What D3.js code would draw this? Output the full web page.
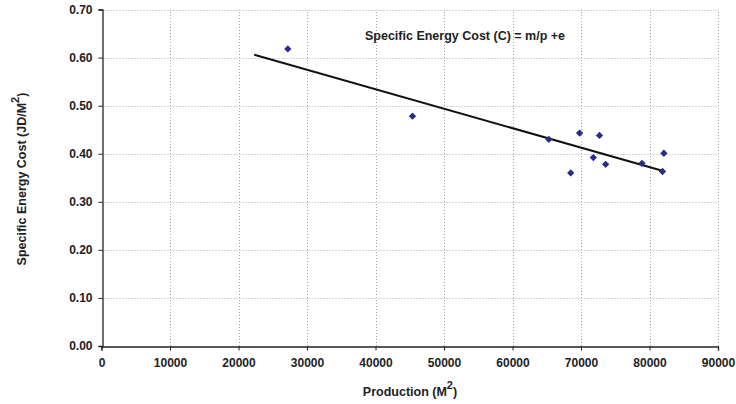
<!DOCTYPE html>
<html>
<head>
<meta charset="utf-8">
<script src="https://cdn.jsdelivr.net/npm/d3@7"></script>
<style>
  body { margin: 0; background: #fff; }
  svg { font-family: "Liberation Sans", Arial, sans-serif; font-weight: bold; }
</style>
</head>
<body>
<script>
// production (m2) and specific energy cost (JD/m2)
const production = [27200, 45400, 65300, 69800, 72700, 68500, 71800, 73600, 78900, 82100, 81900]
const cost = [0.618, 0.478, 0.430, 0.443, 0.438, 0.360, 0.392, 0.378, 0.380, 0.401, 0.363]
// fitted line endpoints
const trendX = [22300, 82000]
const trendY = [0.606, 0.364]
const xTicks = [0, 10000, 20000, 30000, 40000, 50000, 60000, 70000, 80000, 90000]
const yTicks = [0, 0.1, 0.2, 0.3, 0.4, 0.5, 0.6, 0.7]

const width = 736, height = 404
const margin = {left: 101.5, right: 18, top: 9.5, bottom: 58}

const x = d3.scaleLinear().domain([0, 90000]).range([margin.left, width - margin.right])
const y = d3.scaleLinear().domain([0, 0.7]).range([height - margin.bottom, margin.top])

const svg = d3.select('body').append('svg')
    .attr('width', width)
    .attr('height', height)

// grid
const grid = svg.append('g')
    .attr('stroke', '#aaa')
    .attr('stroke-dasharray', '1,2')
    .attr('stroke-width', 1)
grid.selectAll('.gx')
    .data(xTicks.slice(1))
    .join('line')
    .attr('x1', d => Math.round(x(d)) + 0.5).attr('x2', d => Math.round(x(d)) + 0.5)
    .attr('y1', y(0)).attr('y2', y(0.7))
grid.selectAll('.gy')
    .data(yTicks.slice(1))
    .join('line')
    .attr('y1', d => Math.round(y(d)) + 0.5).attr('y2', d => Math.round(y(d)) + 0.5)
    .attr('x1', x(0)).attr('x2', x(90000))

// axes
const xAxis = svg.append('g')
    .attr('transform', `translate(0,${Math.round(y(0)) + 0.5})`)
    .call(d3.axisBottom(x).tickValues(xTicks).tickFormat(d3.format('d')).tickSize(4).tickPadding(8))
const yAxis = svg.append('g')
    .attr('transform', `translate(${Math.round(x(0)) + 0.5},0)`)
    .call(d3.axisLeft(y).tickValues(yTicks).tickFormat(d3.format('.2f')).tickSize(4).tickPadding(6))

for (const a of [xAxis, yAxis]) {
    a.select('.domain').attr('stroke', '#222').attr('stroke-width', 1.3)
    a.selectAll('.tick line').attr('stroke', '#222')
    a.selectAll('text')
        .attr('fill', '#222')
        .style('font-size', '12px')
        .style('font-weight', 'bold')
        .style('font-family', '"Liberation Sans", Arial, sans-serif')
}

// trend line
svg.append('line')
    .attr('x1', x(trendX[0])).attr('y1', y(trendY[0]))
    .attr('x2', x(trendX[1])).attr('y2', y(trendY[1]))
    .attr('stroke', '#111')
    .attr('stroke-width', 2)

// points
svg.append('g')
    .selectAll('path')
    .data(production.map((p, i) => [p, cost[i]]))
    .join('path')
    .attr('transform', d => `translate(${x(d[0])},${y(d[1])})`)
    .attr('d', d3.symbol(d3.symbolDiamond2, 34))
    .attr('fill', '#2a2a8a')

// title
svg.append('text')
    .attr('x', 465)
    .attr('y', 40)
    .attr('text-anchor', 'middle')
    .attr('fill', '#222')
    .style('font-size', '12.5px')
    .text('Specific Energy Cost (C) = m/p +e')

// x label
const xl = svg.append('text')
    .attr('x', 410)
    .attr('y', 396)
    .attr('text-anchor', 'middle')
    .attr('fill', '#222')
    .style('font-size', '12.5px')
xl.append('tspan').text('Production (M')
xl.append('tspan').attr('dy', -7).style('font-size', '11px').text('2')
xl.append('tspan').attr('dy', 7).text(')')

// y label
const yl = svg.append('text')
    .attr('transform', `translate(26,179) rotate(-90)`)
    .attr('text-anchor', 'middle')
    .attr('fill', '#222')
    .style('font-size', '12.5px')
yl.append('tspan').text('Specific Energy Cost (JD/M')
yl.append('tspan').attr('dy', -7).style('font-size', '11px').text('2')
yl.append('tspan').attr('dy', 7).text(')')
</script>
</body>
</html>
